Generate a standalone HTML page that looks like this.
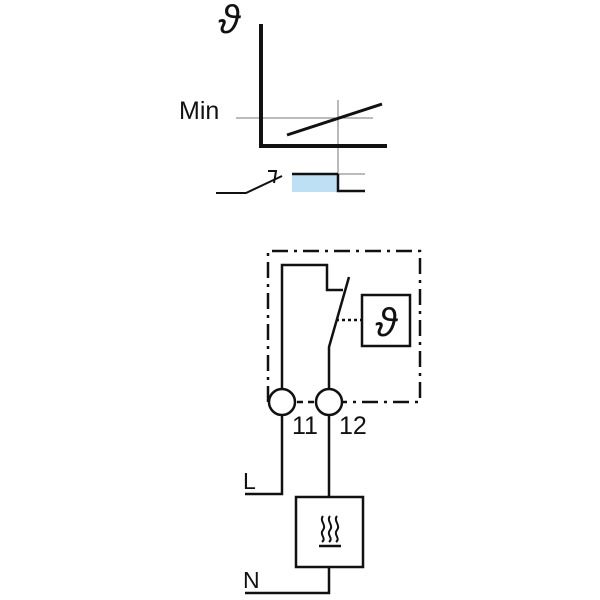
<!DOCTYPE html>
<html><head><meta charset="utf-8"><style>
html,body{margin:0;padding:0;background:#fff;}
svg{display:block;}
text{font-family:"Liberation Sans",sans-serif;fill:#111;}
</style></head><body>
<svg width="600" height="600" viewBox="0 0 600 600" xmlns="http://www.w3.org/2000/svg">
<g stroke="#777" stroke-width="1" fill="none">
<line x1="236" y1="118" x2="373" y2="118"/>
<line x1="338" y1="100" x2="338" y2="192"/>
<line x1="337" y1="174" x2="365" y2="174"/>
</g>
<g stroke="#111" fill="none" stroke-linecap="butt">
<polyline points="261,24 261,146 387,146" stroke-width="4"/>
<line x1="287" y1="135" x2="382" y2="104" stroke-width="3"/>
<rect x="292" y="174" width="45" height="18" fill="#bde0f5" stroke="none"/>
<line x1="292" y1="174" x2="338" y2="174" stroke-width="2.5"/>
<polyline points="338,174 338,191 365,191" stroke-width="2.5"/>
<polyline points="216,193 246,193 282,176" stroke-width="2"/>
<polyline points="268,171 276,171 274,183" stroke-width="2"/>
</g>
<text x="229" y="33" font-family="Liberation Serif,serif" font-style="italic" font-size="40" text-anchor="middle">ϑ</text>
<text x="179" y="119" font-size="25">Min</text>
<g fill="none" stroke="#111" stroke-width="2.5">
<path d="M268,402 V251 H420 V402 H342" stroke-dasharray="16,6,3,6"/>
<line x1="297" y1="402" x2="316" y2="402" stroke-dasharray="6,5"/>
<polyline points="282,388 282,265 327,265 327,290 343,290"/>
<polyline points="349,277 329,347 329,388"/>
<rect x="362" y="295" width="48" height="51"/>
<line x1="336" y1="320" x2="362" y2="320" stroke-dasharray="3,3"/>
<circle cx="282" cy="402" r="13"/>
<circle cx="329" cy="402" r="13"/>
<polyline points="282,415 282,494 245,494"/>
<line x1="329" y1="415" x2="329" y2="497"/>
<rect x="296" y="497" width="67" height="70"/>
<polyline points="329,567 329,593 245,593"/>
<line x1="319" y1="546" x2="341" y2="546"/>
<path d="M323,516 c-4,5 4,9 0,14 c-4,5 4,8 -1,12 M330,516 c-4,5 4,9 0,14 c-4,5 4,8 -1,12 M337,516 c-4,5 4,9 0,14 c-4,5 4,8 -1,12" stroke-width="2"/>
</g>
<text x="386" y="336" font-family="Liberation Serif,serif" font-style="italic" font-size="40" text-anchor="middle">ϑ</text>
<text x="292" y="434" font-size="25">11</text>
<text x="339" y="434" font-size="25">12</text>
<text x="243" y="489" font-size="23">L</text>
<text x="243" y="588" font-size="23">N</text>
</svg>
</body></html>
